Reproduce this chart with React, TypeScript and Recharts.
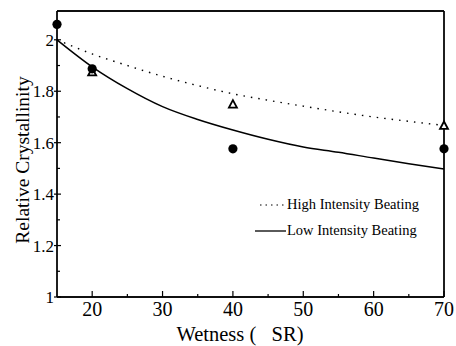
import {
  ComposedChart,
  Line,
  Scatter,
  XAxis,
  YAxis,
  ReferenceLine,
} from "recharts";

// fitted curves
const fitX = [15, 20, 25, 30, 35, 40, 45, 50, 55, 60, 65, 70];
const highFit = [2.0, 1.945, 1.9, 1.858, 1.822, 1.79, 1.765, 1.742, 1.72, 1.7, 1.683, 1.667];
const lowFit = [2.0, 1.895, 1.81, 1.74, 1.69, 1.649, 1.613, 1.583, 1.563, 1.54, 1.518, 1.498];

// measured points
const highX = [20, 40, 70];
const highY = [1.873, 1.748, 1.665];
const lowX = [15, 20, 40, 70];
const lowY = [2.06, 1.887, 1.576, 1.576];

const xTicks = [15, 20, 25, 30, 35, 40, 45, 50, 55, 60, 65, 70];
const xLabels = [20, 30, 40, 50, 60, 70];
const yTicks = [1, 1.1, 1.2, 1.3, 1.4, 1.5, 1.6, 1.7, 1.8, 1.9, 2];
const yLabels = ["1", "1.2", "1.4", "1.6", "1.8", "2"];

const X_MIN = 15;
const X_MAX = 70;
const Y_MIN = 1;
const Y_MAX = 2.112;

const highLine = fitX.map((x, i) => ({ x, y: highFit[i] }));
const lowLine = fitX.map((x, i) => ({ x, y: lowFit[i] }));
const highPts = highX.map((x, i) => ({ x, y: highY[i] }));
const lowPts = lowX.map((x, i) => ({ x, y: lowY[i] }));

const FONT = "'Liberation Serif', 'Times New Roman', serif";

const BottomTick = ({ x, y, payload }: any) => {
  if (payload.value === X_MIN) return null;
  const major = xLabels.includes(payload.value);
  return (
    <g>
      <line x1={x} x2={x} y1={y} y2={y - (major ? 6 : 3)} stroke="#000" strokeWidth={1.2} />
      {major && (
        <text x={x} y={y + 18.5} textAnchor="middle" fontSize={20} fontFamily={FONT} fill="#000">
          {payload.value}
        </text>
      )}
    </g>
  );
};

const TopTick = ({ x, y, payload }: any) => {
  if (payload.value === X_MIN || payload.value === X_MAX) return null;
  const major = xLabels.includes(payload.value);
  return <line x1={x} x2={x} y1={y} y2={y + (major ? 6 : 3)} stroke="#000" strokeWidth={1.2} />;
};

const LeftTick = ({ x, y, payload }: any) => {
  const label = String(Math.round(payload.value * 10) / 10);
  const major = yLabels.includes(label);
  return (
    <g>
      <line x1={x - (major ? 3 : 0)} x2={x + (major ? 4 : 3)} y1={y} y2={y} stroke="#000" strokeWidth={1.2} />
      {major && (
        <text x={x - 3} y={y + 6} textAnchor="end" fontSize={17} fontFamily={FONT} fill="#000">
          {label}
        </text>
      )}
    </g>
  );
};

const RightTick = ({ x, y, payload }: any) => {
  if (payload.value === Y_MIN) return null;
  const label = String(Math.round(payload.value * 10) / 10);
  const major = yLabels.includes(label);
  return <line x1={x} x2={x - (major ? 6 : 3)} y1={y} y2={y} stroke="#000" strokeWidth={1.2} />;
};

const Dot = ({ cx, cy }: any) => <circle cx={cx} cy={cy} r={4.6} fill="#000" />;

const Tri = ({ cx, cy }: any) => (
  <path
    d={`M${cx},${cy - 4.5} L${cx + 4},${cy + 3} L${cx - 4},${cy + 3} Z`}
    fill="#fff"
    stroke="#000"
    strokeWidth={1.8}
  />
);

export default function App() {
  return (
    <div style={{ position: "absolute", left: 0, top: 0, width: 456, height: 346, background: "#fff" }}>
      <ComposedChart width={456} height={346} margin={{ top: 10, right: 11, bottom: 0, left: 0 }}>
        <XAxis
          xAxisId="b"
          dataKey="x"
          type="number"
          domain={[X_MIN, X_MAX]}
          ticks={xTicks}
          interval={0}
          height={49}
          tickLine={false}
          tickSize={0}
          tickMargin={0}
          tick={<BottomTick />}
          stroke="#000"
          axisLine={{ stroke: "#000", strokeWidth: 1.3 }}
        />
        <XAxis
          xAxisId="t"
          orientation="top"
          dataKey="x"
          type="number"
          domain={[X_MIN, X_MAX]}
          ticks={xTicks}
          interval={0}
          height={1}
          tickLine={false}
          tickSize={0}
          tickMargin={0}
          tick={<TopTick />}
          stroke="#000"
          axisLine={{ stroke: "#000", strokeWidth: 1.3 }}
        />
        <YAxis
          yAxisId="l"
          type="number"
          domain={[Y_MIN, Y_MAX]}
          ticks={yTicks}
          interval={0}
          width={57}
          tickLine={false}
          tickSize={0}
          tickMargin={0}
          tick={<LeftTick />}
          stroke="#000"
          axisLine={{ stroke: "#000", strokeWidth: 1.3 }}
        />
        <YAxis
          yAxisId="r"
          orientation="right"
          type="number"
          domain={[Y_MIN, Y_MAX]}
          ticks={yTicks}
          interval={0}
          width={1}
          tickLine={false}
          tickSize={0}
          tickMargin={0}
          tick={<RightTick />}
          stroke="#000"
          axisLine={{ stroke: "#000", strokeWidth: 1.3 }}
        />
        <ReferenceLine xAxisId="b" yAxisId="l" x={X_MIN} stroke="#000" strokeWidth={1.3} />
        <ReferenceLine xAxisId="b" yAxisId="l" x={X_MAX} stroke="#000" strokeWidth={1.3} />
        <ReferenceLine xAxisId="b" yAxisId="l" y={Y_MIN} stroke="#000" strokeWidth={1.3} />
        <ReferenceLine xAxisId="b" yAxisId="l" y={Y_MAX} stroke="#000" strokeWidth={1.3} />
        <Line
          xAxisId="b"
          yAxisId="l"
          data={highLine}
          dataKey="y"
          type="monotone"
          stroke="#000"
          strokeWidth={1.4}
          strokeDasharray="1.5 6"
          dot={false}
          isAnimationActive={false}
        />
        <Line
          xAxisId="b"
          yAxisId="l"
          data={lowLine}
          dataKey="y"
          type="monotone"
          stroke="#000"
          strokeWidth={1.5}
          dot={false}
          isAnimationActive={false}
        />
        <Scatter xAxisId="b" yAxisId="l" data={highPts} dataKey="y" shape={<Tri />} isAnimationActive={false} />
        <Scatter xAxisId="b" yAxisId="l" data={lowPts} dataKey="y" shape={<Dot />} isAnimationActive={false} />
      </ComposedChart>
      <div
        style={{
          position: "absolute",
          left: 255,
          top: 197,
          fontFamily: FONT,
          fontSize: 14.5,
          color: "#000",
          lineHeight: "15px",
        }}
      >
        <div style={{ display: "flex", alignItems: "center", marginLeft: 5 }}>
          <svg width={26} height={4}>
            <line x1={0} x2={26} y1={2} y2={2} stroke="#000" strokeWidth={1.2} strokeDasharray="1.5 4" />
          </svg>
          <span style={{ marginLeft: 1 }}>High Intensity Beating</span>
        </div>
        <div style={{ display: "flex", alignItems: "center", marginTop: 11 }}>
          <svg width={31} height={4}>
            <line x1={0} x2={31} y1={2} y2={2} stroke="#000" strokeWidth={1.3} />
          </svg>
          <span style={{ marginLeft: 1 }}>Low Intensity Beating</span>
        </div>
      </div>
      <div
        style={{
          position: "absolute",
          left: 23,
          top: 160,
          transform: "translate(-50%, -50%) rotate(-90deg)",
          whiteSpace: "nowrap",
          fontFamily: FONT,
          fontSize: 19.5,
          color: "#000",
        }}
      >
        Relative Crystallinity
      </div>
      <div
        style={{
          position: "absolute",
          left: 240,
          top: 334,
          transform: "translate(-50%, -50%)",
          whiteSpace: "pre",
          fontFamily: FONT,
          fontSize: 20.5,
          color: "#000",
        }}
      >
        {"Wetness (   SR)"}
      </div>
    </div>
  );
}
